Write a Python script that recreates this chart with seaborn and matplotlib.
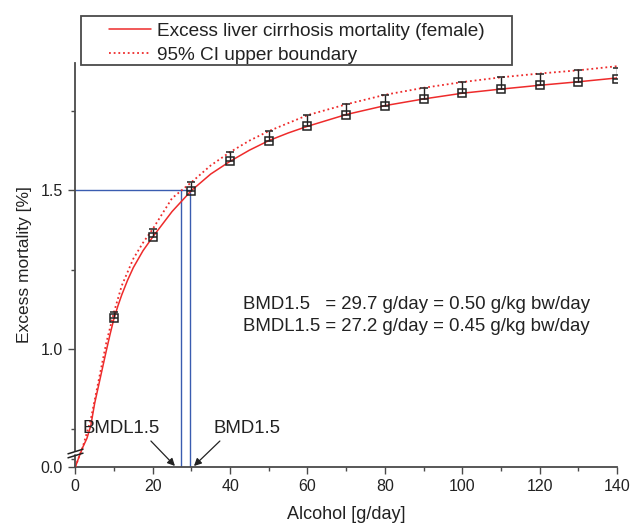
import numpy as np
import matplotlib
matplotlib.use('Agg')
import matplotlib.pyplot as plt
from matplotlib.patches import Rectangle
from matplotlib.ticker import FixedLocator, FormatStrFormatter
import seaborn as sns

# fitted dose-response curve
curve_x = [0, 1, 2, 3, 4, 5, 6, 7, 8, 9, 10, 11, 12, 13.5, 15, 17.5, 20, 25, 30,
           35, 40, 45, 50, 55, 60, 70, 80, 90, 100, 110, 120, 130, 140]
curve_y = [0.0, 0.33, 0.64, 0.72, 0.76, 0.83, 0.885, 0.94, 0.995, 1.048, 1.097,
           1.136, 1.171, 1.217, 1.257, 1.31, 1.353, 1.433, 1.499, 1.551, 1.591,
           1.626, 1.656, 1.68, 1.701, 1.738, 1.766, 1.787, 1.805, 1.818, 1.83,
           1.841, 1.853]

# 95% CI upper boundary
ci_x = [0, 2, 4, 6, 8, 10, 12, 15, 17.5, 20, 25, 30, 35, 40, 45, 50, 60, 70,
        80, 90, 100, 110, 120, 130, 140]
ci_y = [0.0, 0.66, 0.78, 0.9, 1.02, 1.117, 1.2, 1.285, 1.335, 1.378, 1.475,
        1.525, 1.578, 1.62, 1.656, 1.686, 1.736, 1.77, 1.8, 1.822, 1.84, 1.855,
        1.867, 1.877, 1.89]

# point estimates with upper error
dose = [10, 20, 30, 40, 50, 60, 70, 80, 90, 100, 110, 120, 130, 140]
mortality = [1.097, 1.353, 1.499, 1.591, 1.656, 1.701, 1.738, 1.766, 1.787,
             1.805, 1.818, 1.83, 1.841, 1.851]
mortality_upper = [1.117, 1.378, 1.525, 1.62, 1.686, 1.736, 1.77, 1.8, 1.822,
                   1.84, 1.855, 1.867, 1.877, 1.885]

bmr = 1.5
bmd = 29.7
bmdl = 27.2

RED = '#ee2b2b'
BLUE = '#3a5cb0'
GREY = '#4a4a4a'
TXT = '#222222'
FS = 13.4      # annotation text
FS_LEG = 13.7
FS_TICK = 11.5

# broken y axis: values below BREAK are squeezed
BREAK = 0.7
SQUEEZE = 0.1


def forward(y):
    y = np.asarray(y, dtype=float)
    return np.where(y >= BREAK, y, BREAK - (BREAK - y) * SQUEEZE)


def inverse(v):
    v = np.asarray(v, dtype=float)
    return np.where(v >= BREAK, v, BREAK - (BREAK - v) / SQUEEZE)


sns.set_style('ticks')
plt.rcParams['font.family'] = ['Liberation Sans', 'DejaVu Sans']
plt.rcParams['text.color'] = TXT
plt.rcParams['axes.labelcolor'] = TXT
plt.rcParams['xtick.color'] = GREY
plt.rcParams['ytick.color'] = GREY
plt.rcParams['xtick.labelcolor'] = TXT
plt.rcParams['ytick.labelcolor'] = TXT

fig = plt.figure(figsize=(6.35, 5.26), dpi=100)
ax = fig.add_axes([0.1186, 0.1122, 0.9717 - 0.1186, 0.8802 - 0.1122])
ax.set_yscale('function', functions=(forward, inverse))

# BMD guide lines
ax.plot([0, bmd], [bmr, bmr], color=BLUE, lw=1.0, zorder=2)
ax.plot([bmdl, bmdl], [0, bmr], color=BLUE, lw=1.0, zorder=2)
ax.plot([bmd, bmd], [0, bmr], color=BLUE, lw=1.0, zorder=2)

sns.lineplot(x=curve_x, y=curve_y, ax=ax, color=RED, lw=1.1, zorder=3,
             label='Excess liver cirrhosis mortality (female)')
sns.lineplot(x=ci_x, y=ci_y, ax=ax, color=RED, lw=1.3, zorder=3,
             linestyle=(0, (1, 1.6)), label='95% CI upper boundary')

yerr = [np.zeros(len(dose)), np.array(mortality_upper) - np.array(mortality)]
ax.errorbar(dose, mortality, yerr=yerr, fmt='s', ms=6, mfc='none', mec='#222222',
            mew=1.1, ecolor='#222222', elinewidth=1.0, capsize=3.2, capthick=1.0,
            zorder=4)

ax.set_xlim(0, 140)
ax.set_ylim(0, 1.9)
ax.xaxis.set_major_locator(FixedLocator(range(0, 141, 20)))
ax.xaxis.set_minor_locator(FixedLocator(range(10, 140, 20)))
ax.yaxis.set_major_locator(FixedLocator([0.0, 1.0, 1.5]))
ax.yaxis.set_minor_locator(FixedLocator([0.25, 0.75, 1.25, 1.75]))
ax.yaxis.set_major_formatter(FormatStrFormatter('%.1f'))
ax.yaxis.set_minor_formatter(FormatStrFormatter(''))
ax.tick_params(which='major', length=5, width=1.0, pad=4, labelsize=FS_TICK)
ax.tick_params(which='minor', length=3, width=1.0)

sns.despine(ax=ax)
for side in ['left', 'bottom']:
    ax.spines[side].set_color(GREY)
    ax.spines[side].set_linewidth(1.3)

# axis break
ax.spines['left'].set_bounds(0.5, 1.9)
ax.plot([0, 0], [0, 0.37], transform=ax.get_yaxis_transform(), color=GREY,
        lw=1.3, clip_on=False, zorder=5)
ax.plot([0, 0], [0.37, 0.5], transform=ax.get_yaxis_transform(),
        marker=[(-1, -0.31), (1, 0.31)], markersize=11.5, linestyle='none',
        color='#222222', mew=1.1, clip_on=False, zorder=5)

ax.set_xlabel('Alcohol [g/day]', fontsize=13, labelpad=8)
ax.set_ylabel('Excess mortality [%]', fontsize=12.5, labelpad=6)

# BMD text block
ax.text(43.3, 1.1415, 'BMD1.5   = 29.7 g/day = 0.50 g/kg bw/day',
        fontsize=FS, va='center', ha='left')
ax.text(43.3, 1.072, 'BMDL1.5 = 27.2 g/day = 0.45 g/kg bw/day',
        fontsize=FS, va='center', ha='left')

# arrows pointing at BMDL / BMD
arrow = dict(arrowstyle='-|>', color='#222222', lw=0.9, mutation_scale=11,
             shrinkA=0, shrinkB=1)
ax.annotate('', xy=(26.0, 0), xytext=(-18, 18.7), textcoords='offset points',
            arrowprops=arrow)
ax.annotate('BMDL1.5', xy=(26.0, 0), xytext=(-39.2, 27.4),
            textcoords='offset points', ha='center', va='center', fontsize=FS)
ax.annotate('', xy=(30.4, 0), xytext=(19.4, 18.7), textcoords='offset points',
            arrowprops=arrow)
ax.annotate('BMD1.5', xy=(30.4, 0), xytext=(39.2, 27.4),
            textcoords='offset points', ha='center', va='center', fontsize=FS)

# legend above the axes with its own frame
handles, labels = ax.get_legend_handles_labels()
ax.legend(handles, labels, loc='upper left', bbox_to_anchor=(109 / 635, 1 - 22.5 / 526),
          bbox_transform=fig.transFigure, frameon=False, handlelength=2.2,
          handletextpad=0.3, borderpad=0, borderaxespad=0, labelspacing=0.36,
          fontsize=FS_LEG)
fig.add_artist(Rectangle((81 / 635, 1 - 65 / 526), (512 - 81) / 635, 49 / 526,
                         transform=fig.transFigure, fill=False, lw=1.3,
                         edgecolor=GREY))

fig.savefig('out.png', dpi=100)
